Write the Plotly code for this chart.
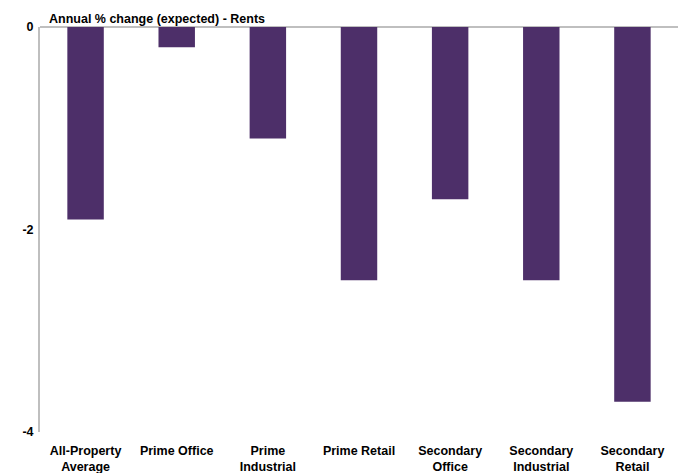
import plotly.graph_objects as go

categories = ["All-Property<br>Average", "Prime Office", "Prime<br>Industrial", "Prime Retail",
              "Secondary<br>Office", "Secondary<br>Industrial", "Secondary<br>Retail"]
values = [-1.9, -0.2, -1.1, -2.5, -1.7, -2.5, -3.7]
y_ticks = [0, -2, -4]
title_text = "Annual % change (expected) - Rents"

font_family = "Liberation Sans, Arial, sans-serif"
fs = 12.5

fig = go.Figure(go.Bar(
    x=categories, y=values,
    marker=dict(color="#4D2F69", line=dict(width=0)),
))

fig.update_layout(
    width=678, height=473,
    margin=dict(l=40, r=0, t=27, b=41),
    paper_bgcolor="white", plot_bgcolor="white",
    bargap=0.6,
    showlegend=False,
    font=dict(family=font_family, size=fs, color="black"),
    annotations=[dict(
        text="<b>" + title_text + "</b>", xref="paper", yref="paper",
        x=0.011, y=1.0, xanchor="left", yanchor="bottom", showarrow=False,
        font=dict(size=fs, family=font_family, color="black"),
        yshift=-1,
    )],
)

fig.update_xaxes(
    showline=False, showgrid=False, zeroline=False, ticks="",
    tickfont=dict(size=fs, family=font_family, color="black"),
    tickmode="array", tickvals=categories,
    ticktext=["<b>" + c.replace("<br>", "</b><br><b>") + "</b>" for c in categories],
    ticklabelstandoff=9,
    automargin=False,
)

fig.update_yaxes(
    range=[-4, 0], tickvals=y_ticks, ticktext=["<b>%d</b>" % v for v in y_ticks],
    showgrid=False, showline=True, linecolor="#BFBFBF", linewidth=2,
    zeroline=True, zerolinecolor="#BFBFBF", zerolinewidth=2,
    ticks="", ticklabelstandoff=2,
    tickfont=dict(size=fs, family=font_family, color="black"),
    automargin=False,
)

fig.write_html("out.html")
